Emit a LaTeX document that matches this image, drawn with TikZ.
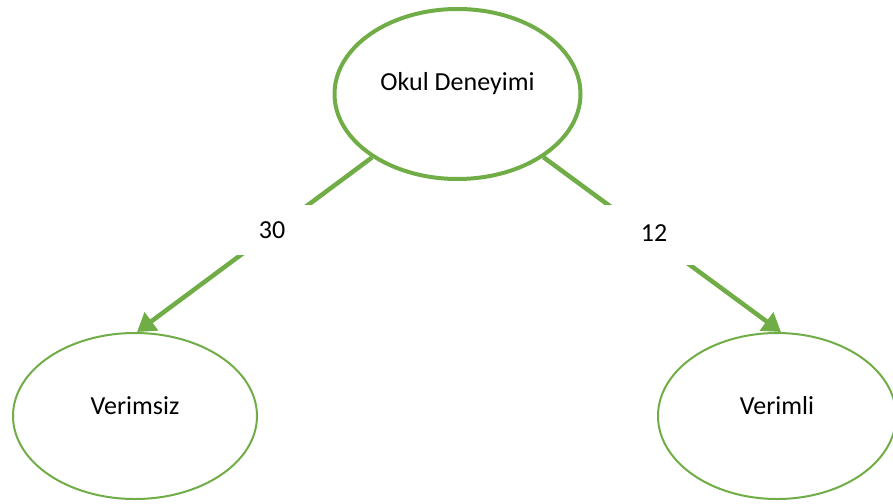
\documentclass[tikz,border=0pt]{standalone}
\usepackage{fontspec}
\setmainfont{Carlito}
\usetikzlibrary{shapes.geometric,arrows.meta}
\definecolor{ogreen}{HTML}{70AD47}
\begin{document}
\begin{tikzpicture}[x=1pt,y=-1pt,
  txt/.style={font=\fontsize{26}{30}\selectfont, text=black},
  ell/.style={ellipse, draw=ogreen, fill=white, inner sep=0pt},
  conn/.style={draw=ogreen, line width=4.5pt, -{Triangle[length=18pt,width=22pt]}},
  lbl/.style={txt, fill=white, inner sep=0pt}]
\useasboundingbox (0,0) rectangle (893,503);
\node[ell, line width=4pt, minimum width=246pt, minimum height=170pt,
  label={[txt, yshift=10pt]center:Okul Deneyimi}] (top) at (457.5,94) {};
\node[ell, line width=2pt, minimum width=244pt, minimum height=166pt,
  label={[txt, yshift=10pt]center:Verimsiz}] (left) at (135,416) {};
\node[ell, line width=2pt, minimum width=238pt, minimum height=166pt,
  label={[txt, yshift=10pt]center:Verimli}] (right) at (777,416) {};
\draw[conn] (top) -- ([xshift=2pt]left.north);
\draw[conn] (top) -- ([xshift=4pt]right.north);
\node[lbl, minimum width=100pt, minimum height=50pt] (l30) at (272,230) {30};
\node[lbl, minimum width=110pt, minimum height=60pt] (l12) at (654,235) {\raisebox{3pt}{12}};
\end{tikzpicture}
\end{document}
